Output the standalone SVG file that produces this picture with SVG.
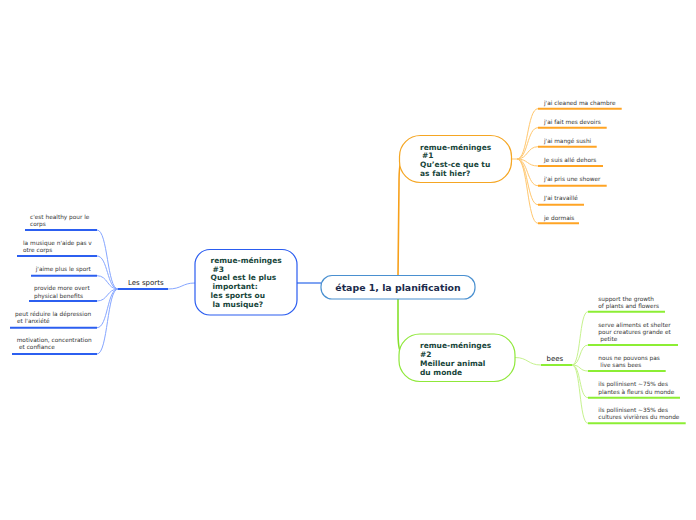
<svg xmlns="http://www.w3.org/2000/svg" width="696" height="520" viewBox="0 0 696 520">
<style>
.leaf{font-family:"DejaVu Sans",Verdana,sans-serif;font-size:5.8px;fill:#333}
.lbl{font-family:"DejaVu Sans",Verdana,sans-serif;font-size:7px;fill:#222}
.nt{font-family:"DejaVu Sans",Verdana,sans-serif;font-size:7.5px;font-weight:bold;fill:#17453a}
.ct{font-family:"DejaVu Sans",Verdana,sans-serif;font-size:9.4px;font-weight:bold;fill:#1b2b4b}
.bc{fill:none;stroke:#86a6ff;stroke-width:1}
.bu{fill:none;stroke:#2c5ff0;stroke-width:2}
.oc{fill:none;stroke:#ffc76e;stroke-width:1}
.ou{fill:none;stroke:#ffa424;stroke-width:2}
.gc{fill:none;stroke:#c6f28e;stroke-width:1}
.gu{fill:none;stroke:#8cee34;stroke-width:2}
</style>
<rect width="696" height="520" fill="#fff"/>
<g id="connectors">
  <path d="M297 283 L321 283" stroke="#7fa3f2" stroke-width="2" fill="none"/>
  <path d="M398 276 L399 185 Q399 160 402 160" stroke="#f7a01a" stroke-width="1.6" fill="none"/>
  <path d="M398 299 L398 330 Q398 350 401 352" stroke="#86e02c" stroke-width="1.6" fill="none"/>
  <path class="bc" d="M168 289 C182 289 182 283 195 283"/>
  <path class="bu" d="M118 289 L168 289"/>
  <path class="bc" d="M118 289 C107 289 108 230 97 230"/>
  <path class="bc" d="M118 289 C107 289 108 256 97 256"/>
  <path class="bc" d="M118 289 C107 289 108 275.7 97 275.7"/>
  <path class="bc" d="M118 289 C107 289 108 301 97 301"/>
  <path class="bc" d="M118 289 C107 289 108 327.7 97 327.7"/>
  <path class="bc" d="M118 289 C107 289 108 354 97 354"/>
  <path class="oc" d="M512 159 L517 159"/>
  <path class="oc" d="M517 159 C528 159 527 108.7 538 108.7"/>
  <path class="oc" d="M517 159 C528 159 527 127.7 538 127.7"/>
  <path class="oc" d="M517 159 C528 159 527 146.7 538 146.7"/>
  <path class="oc" d="M517 159 C528 159 527 166 538 166"/>
  <path class="oc" d="M517 159 C528 159 527 185.7 538 185.7"/>
  <path class="oc" d="M517 159 C528 159 527 204.7 538 204.7"/>
  <path class="oc" d="M517 159 C528 159 527 223.3 538 223.3"/>
  <path class="ou" d="M538 108.7 L621.7 108.7"/>
  <path class="ou" d="M538 127.7 L606.7 127.7"/>
  <path class="ou" d="M538 146.7 L596.7 146.7"/>
  <path class="ou" d="M538 166 L603 166"/>
  <path class="ou" d="M538 185.7 L606.7 185.7"/>
  <path class="ou" d="M538 204.7 L584 204.7"/>
  <path class="ou" d="M538 223.3 L579 223.3"/>
  <path class="gc" d="M515 357.5 C528 357.5 528 365 541 365"/>
  <path class="gu" d="M541 365 L572 365"/>
  <path class="gc" d="M572 365 C581 365 579 311.7 588 311.7"/>
  <path class="gc" d="M572 365 C581 365 579 345 588 345"/>
  <path class="gc" d="M572 365 C581 365 579 371 588 371"/>
  <path class="gc" d="M572 365 C581 365 579 397.7 588 397.7"/>
  <path class="gc" d="M572 365 C581 365 579 423.3 588 423.3"/>
  <path class="gu" d="M588 311.7 L665 311.7"/>
  <path class="gu" d="M588 345 L678 345"/>
  <path class="gu" d="M588 371 L665.7 371"/>
  <path class="gu" d="M588 397.7 L680 397.7"/>
  <path class="gu" d="M588 423.3 L685.7 423.3"/>
  <path class="bu" d="M25 230 L97 230"/>
  <path class="bu" d="M17 256 L97 256"/>
  <path class="bu" d="M31 275.7 L97 275.7"/>
  <path class="bu" d="M29 301 L97 301"/>
  <path class="bu" d="M10 327.7 L97 327.7"/>
  <path class="bu" d="M12 354 L97 354"/>
</g>
<g id="central">
  <rect x="321" y="275.5" width="154" height="23.5" rx="11" fill="#fff" stroke="#4a90d0" stroke-width="1.2"/>
  <text class="ct" x="398" y="290.5" text-anchor="middle">étape 1, la planification</text>
</g>
<g id="node3">
  <rect x="195" y="249.5" width="102" height="65.5" rx="15" fill="#fff" stroke="#2a5cf0" stroke-width="1.2"/>
  <text class="nt" x="210.5" y="263">remue-méninges</text>
  <text class="nt" x="212.5" y="271.5">#3</text>
  <text class="nt" x="210.5" y="280">Quel est le plus</text>
  <text class="nt" x="212.5" y="288.5">important:</text>
  <text class="nt" x="210.5" y="298">les sports ou</text>
  <text class="nt" x="212.5" y="306.5">la musique?</text>
</g>
<g id="node1">
  <rect x="399.5" y="135.5" width="112" height="47" rx="21" fill="#fff" stroke="#f5a623" stroke-width="1.2"/>
  <text class="nt" x="420" y="149.5">remue-méninges</text>
  <text class="nt" x="422" y="158">#1</text>
  <text class="nt" x="420" y="167">Qu’est-ce que tu</text>
  <text class="nt" x="420" y="175.5">as fait hier?</text>
</g>
<g id="node2">
  <rect x="399" y="334" width="116" height="47.5" rx="21" fill="#fff" stroke="#8fe83a" stroke-width="1.2"/>
  <text class="nt" x="420" y="347.5">remue-méninges</text>
  <text class="nt" x="420" y="356.5">#2</text>
  <text class="nt" x="420" y="365.5">Meilleur animal</text>
  <text class="nt" x="420" y="375">du monde</text>
</g>
<g id="les-sports">
  <text class="lbl" x="128" y="285">Les sports</text>
</g>
<g id="sports-leaves">
  <text class="leaf" x="30" y="218.5">c'est healthy pour le</text>
  <text class="leaf" x="30" y="226">corps</text>
  <text class="leaf" x="23" y="244.5">la musique n'aide pas v</text>
  <text class="leaf" x="23" y="252">otre corps</text>
  <text class="leaf" x="35.7" y="271">j'aime plus le sport</text>
  <text class="leaf" x="34" y="290">provide more overt</text>
  <text class="leaf" x="34" y="297.5">physical benefits</text>
  <text class="leaf" x="15" y="316">peut réduire la dépression</text>
  <text class="leaf" x="17" y="323">et l'anxiété</text>
  <text class="leaf" x="16.7" y="342">motivation, concentration</text>
  <text class="leaf" x="19" y="349">et confiance</text>
</g>
<g id="node1-leaves">
  <text class="leaf" x="544" y="104.5">j'ai cleaned ma chambre</text>
  <text class="leaf" x="544" y="123.5">j'ai fait mes devoirs</text>
  <text class="leaf" x="544" y="142.5">j'ai mangé sushi</text>
  <text class="leaf" x="544" y="162">Je suis allé dehors</text>
  <text class="leaf" x="544" y="181">j'ai pris une shower</text>
  <text class="leaf" x="544" y="200">J'ai travaillé</text>
  <text class="leaf" x="544" y="219.5">je dormais</text>
</g>
<g id="bees">
  <text class="lbl" x="546.5" y="361">bees</text>
</g>
<g id="bees-leaves">
  <text class="leaf" x="598.3" y="300.5">support the growth</text>
  <text class="leaf" x="598.3" y="307.5">of plants and flowers</text>
  <text class="leaf" x="598.3" y="327">serve aliments et shelter</text>
  <text class="leaf" x="598.3" y="334">pour creatures grande et</text>
  <text class="leaf" x="600.3" y="340.5">petite</text>
  <text class="leaf" x="598.3" y="359.5">nous ne pouvons pas</text>
  <text class="leaf" x="600.3" y="367">live sans bees</text>
  <text class="leaf" x="598.3" y="386">ils pollinisent ~75% des</text>
  <text class="leaf" x="598.3" y="393.5">plantes à fleurs du monde</text>
  <text class="leaf" x="598.3" y="412">ils pollinisent ~35% des</text>
  <text class="leaf" x="598.3" y="419">cultures vivrières du monde</text>
</g>
</svg>
